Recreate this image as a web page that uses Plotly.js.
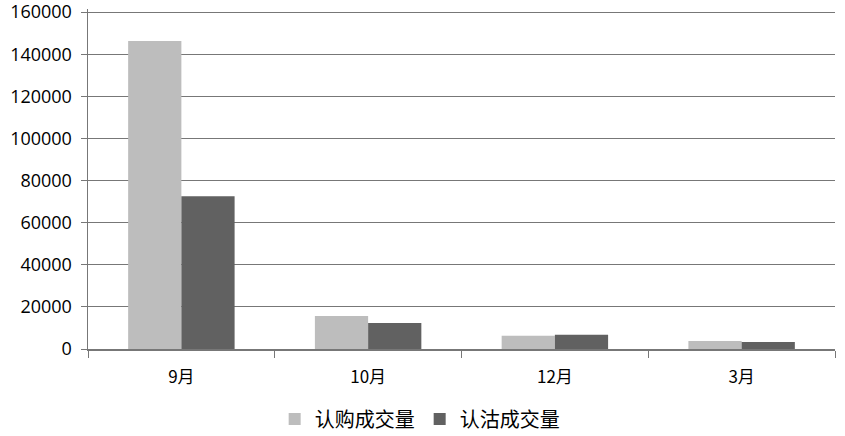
<!DOCTYPE html>
<html>
<head>
<meta charset="utf-8">
<script src="https://cdn.plot.ly/plotly-3.0.1.min.js"></script>
<style>html,body{margin:0;padding:0;background:#fff;}#chart{width:845px;height:436px;}</style>
</head>
<body>
<div id="chart"></div>
<script>
const categories = ["9月", "10月", "12月", "3月"];
const callVolume = [146300, 15700, 6300, 3800];   // 认购成交量
const putVolume = [72500, 12400, 6800, 3300];     // 认沽成交量
const seriesNames = ["认购成交量", "认沽成交量"];
const yTicks = [0, 20000, 40000, 60000, 80000, 100000, 120000, 140000, 160000];

const data = [
  {type: "bar", x: categories, y: callVolume, name: seriesNames[0], marker: {color: "#bdbdbd"}},
  {type: "bar", x: categories, y: putVolume, name: seriesNames[1], marker: {color: "#616161"}}
];

const layout = {
  width: 845, height: 436,
  margin: {l: 88, r: 10, t: 9, b: 87},
  paper_bgcolor: "#fff", plot_bgcolor: "#fff",
  barmode: "group", bargap: 0.43, bargroupgap: 0,
  font: {family: "Open Sans, DejaVu Sans, sans-serif", size: 16, color: "#000"},
  xaxis: {
    type: "category", tickson: "boundaries", ticks: "outside", ticklen: 7, tickcolor: "#777",
    showline: true, linecolor: "#777", linewidth: 1.5, showgrid: false, zeroline: false,
    ticklabelstandoff: 12,
    tickfont: {family: "Noto Sans CJK SC, sans-serif", size: 17}
  },
  yaxis: {
    range: [0, 161500], tickvals: yTicks, ticktext: yTicks.map(String),
    ticks: "outside", ticklen: 6, tickcolor: "#777",
    showline: true, linecolor: "#777", linewidth: 1.5,
    showgrid: true, gridcolor: "#777", gridwidth: 1, zeroline: false,
    ticklabelstandoff: 5, ticklabeloverflow: "allow",
    tickfont: {size: 18}
  },
  legend: {
    orientation: "h", x: 0.444, xanchor: "center",
    yref: "container", y: 0.039, yanchor: "middle",
    font: {family: "Noto Sans CJK SC, sans-serif", size: 20}, itemwidth: 30
  },
  showlegend: true
};

Plotly.newPlot("chart", data, layout, {displayModeBar: false, staticPlot: true});
</script>
</body>
</html>
